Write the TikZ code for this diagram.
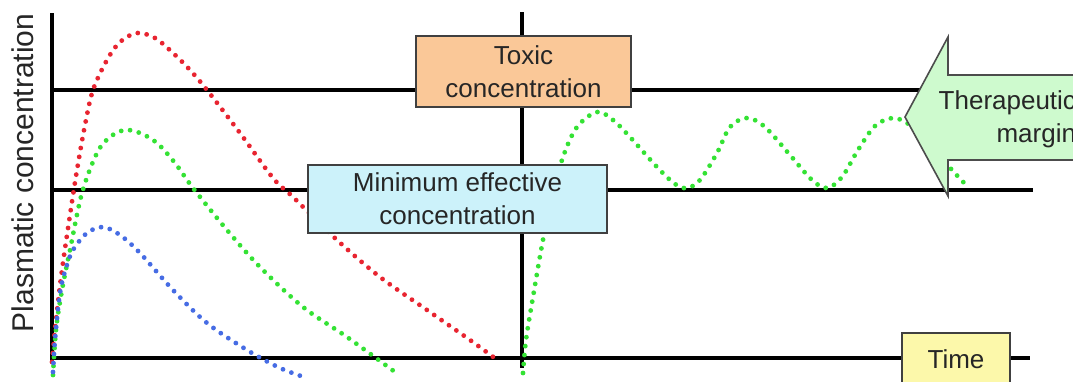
\documentclass[tikz,border=0pt]{standalone}
\usepackage{fontspec}
\setmainfont{Liberation Sans}
\definecolor{toxicfill}{RGB}{250,200,152}
\definecolor{mecfill}{RGB}{204,242,250}
\definecolor{timefill}{RGB}{252,248,170}
\definecolor{marginfill}{RGB}{206,250,206}
\definecolor{dosered}{RGB}{232,36,48}
\definecolor{dosegreen}{RGB}{52,226,52}
\definecolor{doseblue}{RGB}{70,108,228}
\begin{document}
\begin{tikzpicture}[
  x=0.5pt,y=-0.5pt,
  refline/.style={line width=2.2pt, draw=black},
  dose/.style={line width=2.4pt, line cap=round, dash pattern=on 0pt off 4.5pt},
  labelbox/.style={draw=black!75, line width=1pt, align=center, text=black!85, font=\fontsize{13}{16.5}\selectfont, inner sep=0pt},
  axislabel/.style={text=black!85, font=\fontsize{15}{18}\selectfont, inner sep=0pt}
]
\clip (0,0) rectangle (1073,381);
\fill[white] (0,0) rectangle (1073,381);

% axes and reference levels
\draw[refline] (52,13) -- (52,362);
\draw[refline] (522,12) -- (522,368);
\draw[refline] (52,90) -- (925,90);
\draw[refline] (52,190) -- (1033,190);
\draw[refline] (52,358) -- (1030,358);

% single doses
\draw[dose, dosered] plot[smooth, tension=0.55] coordinates {(52,362) (56,320) (62,270) (70,215) (77,170) (85,125) (93,90) (107,60) (120,42) (137,33) (155,38) (173,53) (190,70) (207,90) (240,133) (273,178) (293,197) (337,240) (380,277) (427,310) (470,340) (500,362)};
\draw[dose, dosegreen] plot[smooth, tension=0.55] coordinates {(53,375) (56,330) (62,290) (70,250) (82,193) (97,153) (110,137) (125,130) (140,133) (157,143) (175,163) (193,188) (227,230) (260,267) (303,307) (347,337) (395,372)};
\draw[dose, doseblue] plot[smooth, tension=0.55] coordinates {(53,372) (55,340) (60,293) (66,268) (73,250) (87,233) (103,227) (120,235) (140,253) (173,290) (207,323) (247,350) (280,368) (307,378)};

% repeated doses
\draw[dose, dosegreen] plot[smooth, tension=0.55] coordinates {(523,373) (526,340) (533,297) (543,240) (553,195) (563,157) (577,127) (597,112) (613,120) (630,137) (657,167) (675,184) (687,188) (700,180) (717,153) (730,127) (747,118) (765,127) (790,155) (812,180) (827,188) (842,177) (858,150) (875,126) (893,118) (910,125) (930,145) (952,170) (968,187)};

% labels
\node[labelbox, fill=toxicfill, minimum width=107.5pt, minimum height=35.5pt] (toxic) at (523.5,71.5) {Toxic\\concentration};
\node[labelbox, fill=mecfill, minimum width=149.5pt, minimum height=34pt] (mec) at (457.5,199) {Minimum effective\\concentration};
\node[labelbox, fill=timefill, minimum width=54pt, minimum height=26pt] (time) at (956,359) {Time};
\node[axislabel, rotate=90] (ylabel) at (22.5,173) {Plasmatic concentration};

\filldraw[fill=marginfill, draw=black!70, line width=0.8pt]
  (905,117) -- (948,37) -- (948,75) -- (1090,75) -- (1090,160) -- (948,160) -- (948,196) -- cycle;
\node[labelbox, draw=none, align=right, anchor=north east] (margin) at (1077,90) {Therapeutic\\margin};
\end{tikzpicture}
\end{document}
